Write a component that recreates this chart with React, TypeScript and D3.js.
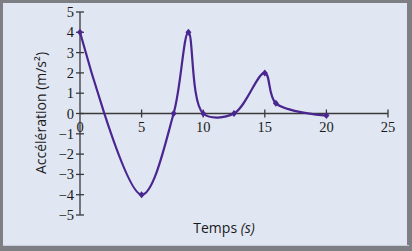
import React from "react";
import * as d3 from "d3";

const timeValues = [0, 5, 7.6, 8.8, 10, 12.5, 15, 15.9, 20];
const accelValues = [4, -4, 0, 4, 0, 0, 2, 0.5, -0.1];
const xTicks = [0, 5, 10, 15, 20, 25];
const yTicks = [5, 4, 3, 2, 1, 0, -1, -2, -3, -4, -5];

export default function App() {
  const W = 412, H = 251;
  const x = d3.scaleLinear().domain([0, 25]).range([80, 388]);
  const y = d3.scaleLinear().domain([-5, 5]).range([215, 12]);
  const pts = timeValues.map((t, i) => [t, accelValues[i]] as [number, number]);
  const line = d3.line<[number, number]>()
    .x(d => x(d[0]))
    .y(d => y(d[1]))
    .curve(d3.curveCatmullRom.alpha(0.5));
  const purple = "#4a2690";
  const axisColor = "#3a3a3a";
  return (
    <div style={{ position: "fixed", left: 0, top: 0 }}>
      <svg width={W} height={H} style={{ display: "block" }}>
        <rect x={0} y={0} width={W} height={H} fill="#7d7f84" />
        <rect x={3} y={3} width={W - 8} height={H - 8} fill="#e0e6f2" />
        <rect x={3} y={H - 6} width={W - 6} height={1} fill="#c9ceda" />
        <line x1={x(0)} x2={x(0)} y1={y(5)} y2={y(-5)} stroke={axisColor} strokeWidth={1.3} />
        <line x1={x(0)} x2={x(25)} y1={y(0)} y2={y(0)} stroke={axisColor} strokeWidth={1.3} />
        {yTicks.map(v => (
          <g key={"y" + v}>
            <line x1={x(0) - 4} x2={x(0) + 4} y1={y(v)} y2={y(v)} stroke={axisColor} strokeWidth={1.3} />
            <text x={x(0) - 6} y={y(v) + 5} textAnchor="end" fontFamily="Liberation Serif" fontSize={14.5} fill="#1a1a1a">
              {v < 0 ? "\u2212" + Math.abs(v) : v}
            </text>
          </g>
        ))}
        {xTicks.map(v => (
          <g key={"x" + v}>
            {v !== 0 && <line x1={x(v)} x2={x(v)} y1={y(0) - 4} y2={y(0) + 4} stroke={axisColor} strokeWidth={1.3} />}
            <text x={x(v)} y={y(0) + 18} textAnchor="middle" fontFamily="Liberation Serif" fontSize={14.5} fill="#1a1a1a">
              {v}
            </text>
          </g>
        ))}
        <path d={line(pts) || ""} fill="none" stroke={purple} strokeWidth={2.2} />
        {pts.map((p, i) => (
          <path key={i} d={`M${x(p[0])},${y(p[1]) - 3.5}L${x(p[0]) + 3},${y(p[1])}L${x(p[0])},${y(p[1]) + 3.5}L${x(p[0]) - 3},${y(p[1])}Z`} fill={purple} />
        ))}
        <text transform={`translate(46,${113}) rotate(-90)`} textAnchor="middle" fontFamily="Open Sans" fontSize={14} fill="#1a1a1a">
          Accélération (m/s²)
        </text>
        <text x={224} y={233} textAnchor="middle" fontFamily="Open Sans" fontSize={14} fill="#1a1a1a">
          Temps <tspan fontStyle="italic">(s)</tspan>
        </text>
      </svg>
    </div>
  );
}
